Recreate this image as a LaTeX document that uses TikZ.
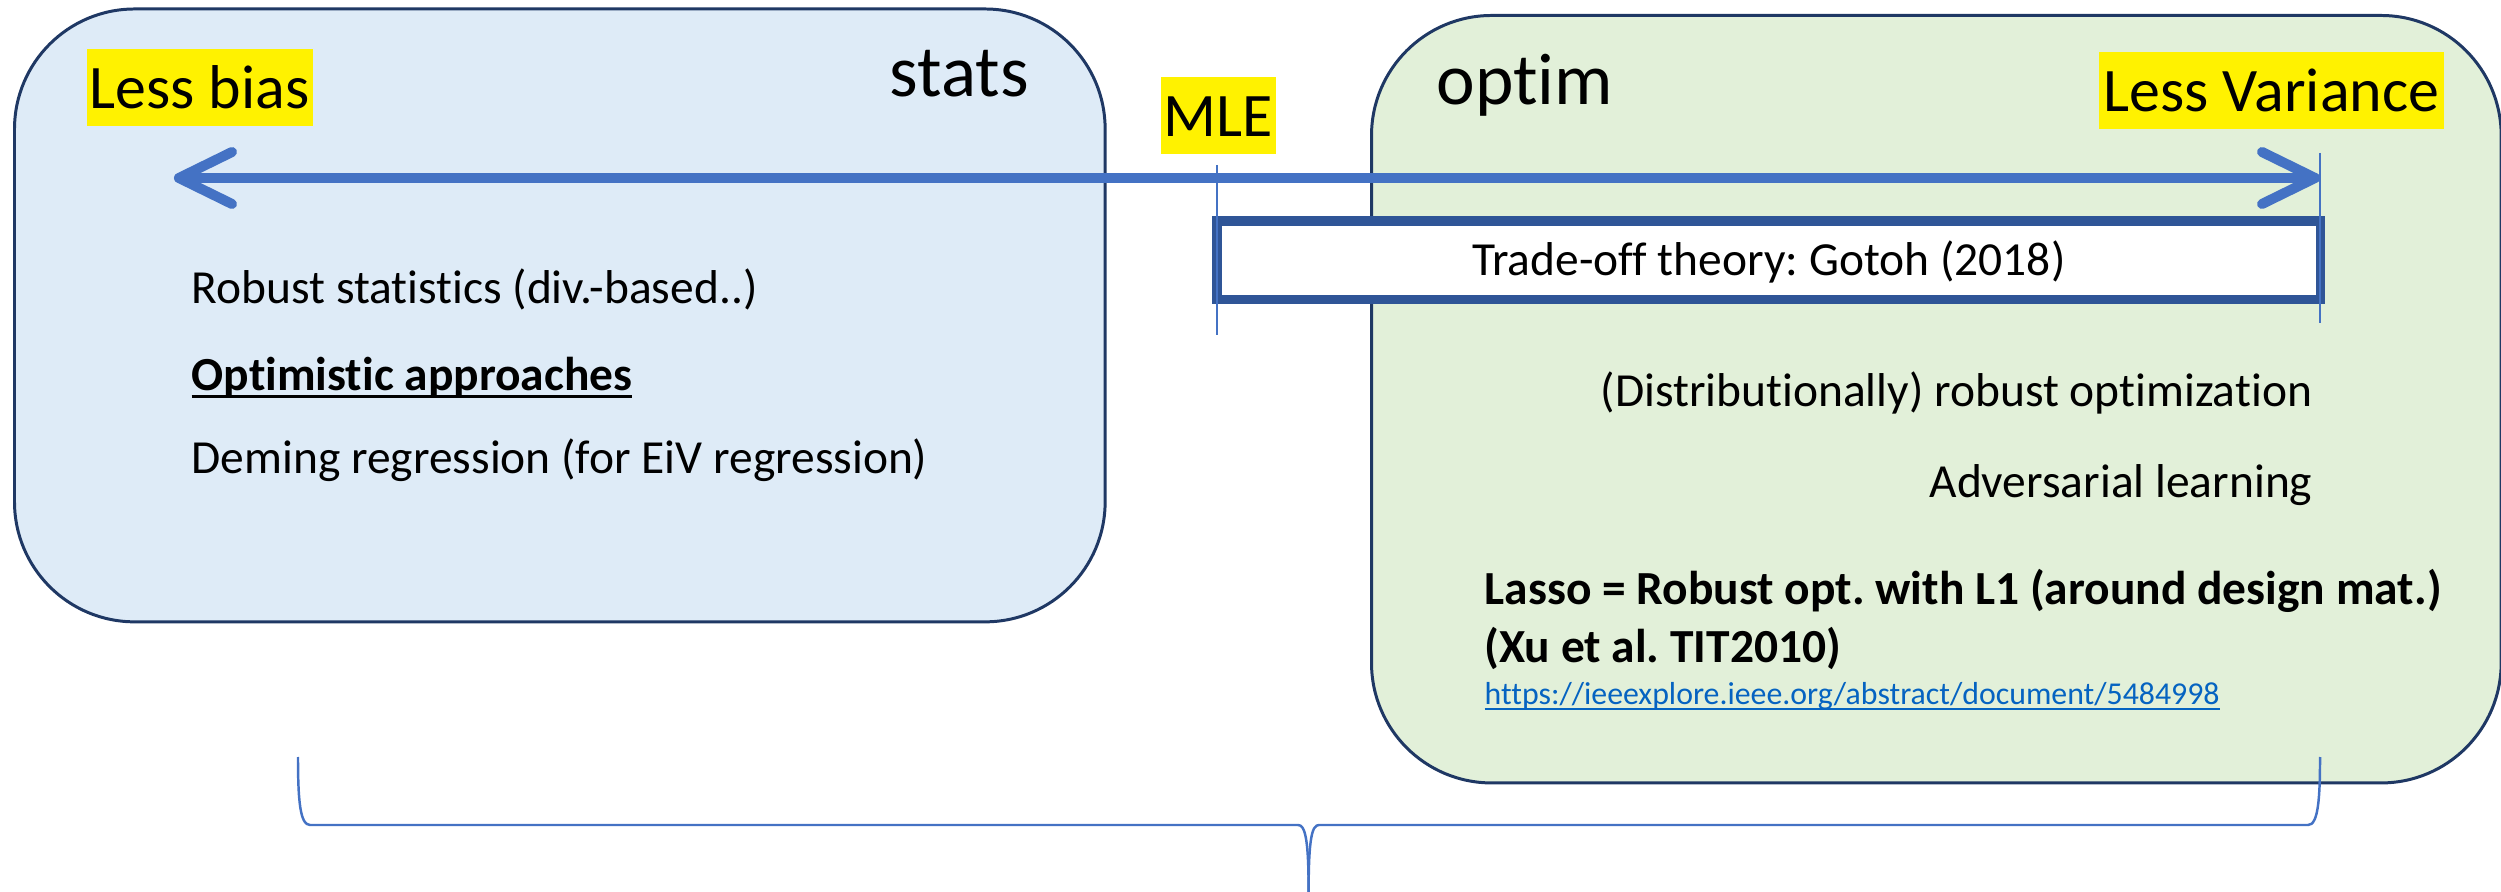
\documentclass[tikz,border=0pt]{standalone}
\usepackage{fontspec}
\setmainfont{Carlito}[Ligatures=NoCommon]
\usetikzlibrary{calc}

\definecolor{statsfill}{HTML}{DEEBF7}
\definecolor{optimfill}{HTML}{E2F0D9}
\definecolor{panelline}{HTML}{1F3864}
\definecolor{accent}{HTML}{4472C4}
\definecolor{tradeline}{HTML}{2F5597}
\definecolor{linkblue}{HTML}{0563C1}

% underline that sits close to the baseline and cuts through descenders
\newcommand\ulinetext[1]{\leavevmode\setbox0\hbox{#1}\rlap{\rule[-0.15em]{\wd0}{0.06em}}\box0}

\frenchspacing

\begin{document}
\begin{tikzpicture}[x=0.01cm, y=-0.01cm,
  panel/.style={draw=panelline, line width=0.85pt, rounded corners=1.2cm,
    inner sep=0, anchor=north west},
  body/.style={font=\fontsize{13.5}{16}\selectfont, inner sep=0, text=black},
  tag/.style={fill=yellow, font=\fontsize{17.6}{21}\selectfont, inner xsep=0.03cm,
    inner ysep=0, text height=0.6cm, text depth=0.17cm, anchor=north west},
  title/.style={font=\fontsize{20.8}{25}\selectfont, inner sep=0, anchor=base west},
  scalebar/.style={accent, line width=2.85pt, line cap=round, line join=round},
  tick/.style={accent, line width=0.45pt},
  brace/.style={accent, line width=0.7pt},
  link/.style={font=\fontsize{9.05}{11}\selectfont, text=linkblue, inner sep=0, anchor=base west}
]
\useasboundingbox (0,0) rectangle (2501,892);

% the two panels
\node[panel, fill=statsfill, minimum width=10.9cm, minimum height=6.125cm] (statsbox) at (13,7.5) {};
\node[panel, fill=optimfill, minimum width=11.29cm, minimum height=7.67cm] (optimbox) at (1370,14) {};

% trade-off band
\node[draw=tradeline, line width=2.7pt, fill=white, minimum width=11.03cm,
  minimum height=0.785cm, inner sep=0, body, text height=0.415cm, text depth=0.1cm]
  (theory) at (1768.75,260.25) {Trade-off theory: Gotoh (2018)};

% markers for the ends of the band
\coordinate (mletop) at (1217,165);
\coordinate (mlebot) at (1217,335);
\coordinate (vartop) at (2320,153);
\coordinate (varbot) at (2320,323);
\draw[tick] (mletop) -- (mlebot);
\draw[tick] (vartop) -- (varbot);

% bias--variance scale
\coordinate (biasend) at (179,178);
\coordinate (varend) at (2315,178);
\draw[scalebar] (biasend) -- (varend);
\draw[scalebar] ($(biasend)+(53,-26)$) -- (biasend) -- ($(biasend)+(53,26)$);
\draw[scalebar] ($(varend)+(-53,-26)$) -- (varend) -- ($(varend)+(-53,26)$);

% highlighted labels
\node[tag] (lessbias) at (86,48) {Less bias};
\node[tag, inner xsep=0.05cm] (lessvar) at (2098,51) {Less Variance};
\node[tag] (mle) at (1160,76) {MLE};

% panel titles
\node[title] (statslabel) at (889,97) {stats};
\node[title] (optimlabel) at (1436,105) {optim};

% statistics side
\node[body, anchor=base west] (robuststat) at (191,304) {Robust statistics (div.-based..)};
\node[body, anchor=base west] (optimistic) at (191,391) {\bfseries\ulinetext{Optimistic approaches}};
\node[body, anchor=base west] (deming) at (191,474) {Deming regression (for EiV regression)};

% optimisation side
\node[body, anchor=base east] (dro) at (2313,407) {(Distributionally) robust optimization};
\node[body, anchor=base east] (adv) at (2313,498) {Adversarial learning};
\node[body, anchor=base west, font=\fontsize{13.5}{16}\selectfont\bfseries] (lasso) at (1484,605)
  {Lasso = Robust opt. with L1 (around design mat.)};
\node[body, anchor=base west, font=\fontsize{13.5}{16}\selectfont\bfseries] (xu) at (1484,663)
  {(Xu et al. TIT2010)};
\node[link] (url) at (1484,705) {\ulinetext{https://ieeexplore.ieee.org/abstract/document/5484998}};

% brace under both panels
\coordinate (braceleft) at (298,757);
\coordinate (braceright) at (2320,757);
\coordinate (bracetip) at (1308.6,892);
\draw[brace] (braceleft) .. controls (298,800) and (300,825) .. (310,825) -- (1298,825)
  .. controls (1305,825) and (1308.6,838) .. (bracetip);
\draw[brace] (bracetip) .. controls (1308.6,838) and (1312,825) .. (1319,825) -- (2308,825)
  .. controls (2318,825) and (2320,800) .. (braceright);
\end{tikzpicture}
\end{document}
